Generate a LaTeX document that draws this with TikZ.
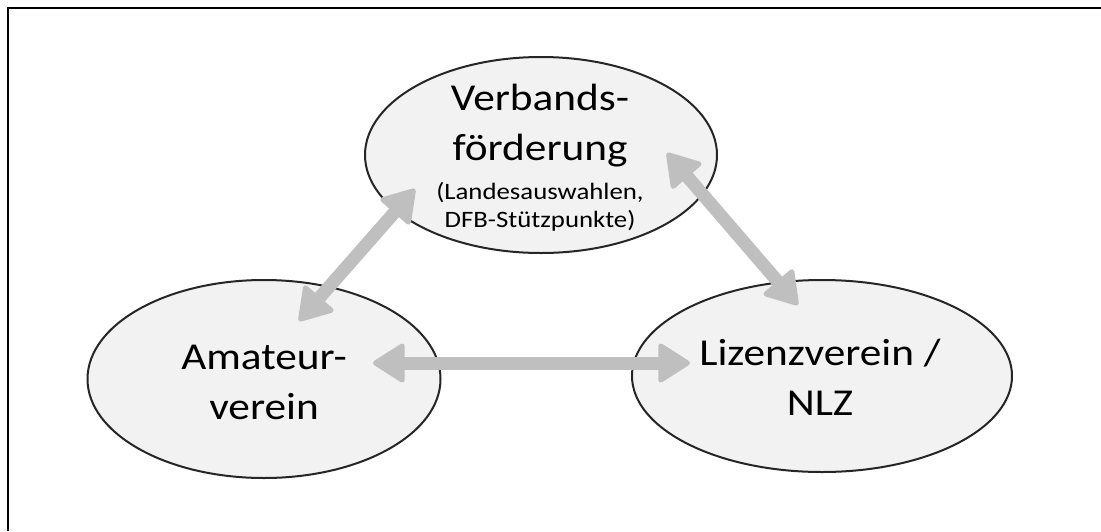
\documentclass[tikz,border=0pt]{standalone}
\usepackage{fontspec}
\setmainfont{Carlito}[FakeStretch=1.14]
\usetikzlibrary{arrows.meta,shapes.geometric}
\definecolor{ellfill}{HTML}{F2F2F2}
\definecolor{ellline}{HTML}{262626}
\definecolor{arrgray}{HTML}{BFBFBF}
\begin{document}
\begin{tikzpicture}[x=1pt,y=-1pt,
  bubble/.style={ellipse,draw=ellline,line width=2pt,fill=ellfill,inner sep=0pt},
  txt/.style={align=center,inner sep=0pt,text=black,anchor=base},
  bigtext/.style={txt,font=\fontsize{38}{50}\selectfont},
  smalltext/.style={txt,font=\fontsize{23.5}{28}\selectfont},
  link/.style={draw=arrgray,line width=13pt,
    {Triangle[width=42pt,length=34pt,line width=5pt,round]}-{Triangle[width=42pt,length=34pt,line width=5pt,round]}}
]
\useasboundingbox (0,0) rectangle (1101,531);
\fill[white] (0,0) rectangle (1101,531);
% frame (only top and left edges remain visible)
\coordinate (frtr) at (1101,8);
\coordinate (frtl) at (8,8);
\coordinate (frbl) at (8,531);
\draw[line width=2pt,black] (frtr) -- (frtl) -- (frbl);

% the three bubbles
\node[bubble,minimum width=352pt,minimum height=196pt] (vf) at (541,155) {};
\node[bubble,minimum width=353pt,minimum height=198pt] (av) at (264,379) {};
\node[bubble,minimum width=380pt,minimum height=192pt] (lz) at (822,376) {};

% texts (base anchor = baseline of the last line)
\node[bigtext] (vft) at (540,160) {Verbands-\\förderung};
\node[smalltext] (vfs) at (540,227) {(Landesauswahlen,\\DFB-Stützpunkte)};
\node[bigtext] (avt) at (264,419) {Amateur-\\verein};
\node[bigtext] (lzt) at (820,415) {Lizenzverein /\\NLZ};

% arrow end points
\coordinate (p1) at (299,321);
\coordinate (p2) at (415,189);
\coordinate (p3) at (667,153);
\coordinate (p4) at (798,305);
\coordinate (p5) at (373,363);
\coordinate (p6) at (690,363);

\draw[link] (p1) -- (p2);
\draw[link] (p3) -- (p4);
\draw[link] (p5) -- (p6);
\end{tikzpicture}
\end{document}
